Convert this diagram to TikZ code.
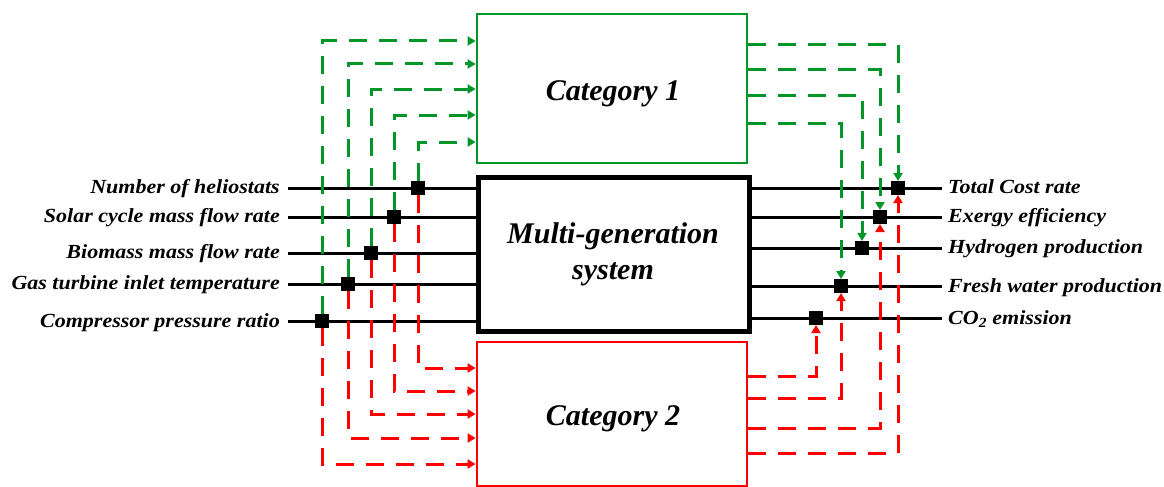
\documentclass[tikz,border=0pt]{standalone}
\usepackage{fontspec}
\setmainfont{Liberation Serif}
\newfontfamily\lblfont{Liberation Serif}[FakeStretch=1.1]
\usetikzlibrary{arrows.meta}
\definecolor{cgreen}{RGB}{0,150,40}
\definecolor{cred}{RGB}{255,0,0}
\begin{document}
\begin{tikzpicture}[x=1pt,y=-1pt,
  lbl/.style={font=\lblfont\fontsize{20}{22}\selectfont\bfseries\itshape, inner sep=0pt},
  bigl/.style={font=\fontsize{30}{36}\selectfont\bfseries\itshape, align=center, inner sep=0pt},
  sq/.style={fill=black, minimum size=14pt, inner sep=0pt, outer sep=0pt},
  inln/.style={line width=3pt, black},
  gd/.style={cgreen, line width=3pt, dash pattern=on 18pt off 12pt, -{Triangle[width=9pt,length=8pt]}},
  rd/.style={cred, line width=3pt, dash pattern=on 18pt off 12pt, -{Triangle[width=9pt,length=8pt]}},
]
\useasboundingbox (0,0) rectangle (1164,487);
% boxes
\node[draw=cgreen, line width=2.8pt, minimum width=270pt, minimum height=149pt, inner sep=0pt] (cat1) at (612,88.5) {};
\node[draw=black, line width=5pt, minimum width=271pt, minimum height=154pt, inner sep=0pt] (ms) at (614,254) {};
\node[draw=cred, line width=2.8pt, minimum width=270pt, minimum height=144pt, inner sep=0pt] (cat2) at (612,414) {};
\node[bigl, anchor=base] (t1) at (613,100) {Category 1};
\node[bigl, anchor=base] (t2) at (613,243) {Multi-generation};
\node[bigl, anchor=base] (t3) at (613,279) {system};
\node[bigl, anchor=base] (t4) at (613,425) {Category 2};
% left inputs
\coordinate (i1) at (288,188);
\coordinate (i2) at (288,217);
\coordinate (i3) at (288,253);
\coordinate (i4) at (288,284);
\coordinate (i5) at (288,321);
\node[lbl, anchor=base east] (l1) at (280,193) {Number of heliostats};
\node[lbl, anchor=base east] (l2) at (280,222) {Solar cycle mass flow rate};
\node[lbl, anchor=base east] (l3) at (280,258) {Biomass mass flow rate};
\node[lbl, anchor=base east] (l4) at (280,289) {Gas turbine inlet temperature};
\node[lbl, anchor=base east] (l5) at (280,327) {Compressor pressure ratio};
\foreach \k in {1,...,5} {\draw[inln] (i\k) -- (i\k -| ms.west);}
% right outputs
\coordinate (o1) at (942,188);
\coordinate (o2) at (942,217);
\coordinate (o3) at (942,248);
\coordinate (o4) at (942,286);
\coordinate (o5) at (942,318);
\foreach \k in {1,...,5} {\draw[inln] (o\k -| ms.east) -- (o\k);}
\node[lbl, anchor=base west] (r1) at (948,193) {Total Cost rate};
\node[lbl, anchor=base west] (r2) at (948,222) {Exergy efficiency};
\node[lbl, anchor=base west] (r3) at (948,253) {Hydrogen production};
\node[lbl, anchor=base west] (r4) at (948,292) {Fresh water production};
\node[lbl, anchor=base west] (r5) at (948,324) {CO\textsubscript{2} emission};
% left squares
\node[sq] (a1) at (418,188) {};
\node[sq] (a2) at (394,217) {};
\node[sq] (a3) at (371,253) {};
\node[sq] (a4) at (348,284) {};
\node[sq] (a5) at (322,321) {};
% right squares
\node[sq] (b1) at (898,188) {};
\node[sq] (b2) at (880,217) {};
\node[sq] (b3) at (862,248) {};
\node[sq] (b4) at (841,286) {};
\node[sq] (b5) at (816,318) {};
% green left
\draw[gd] (a1.north) |- (cat1.west |- 0,142);
\draw[gd] (a2.north) |- (cat1.west |- 0,115);
\draw[gd] (a3.north) |- (cat1.west |- 0,89);
\draw[gd] (a4.north) |- (cat1.west |- 0,64);
\draw[gd] (a5.north) |- (cat1.west |- 0,41);
% red left
\draw[rd] (a1.south) |- (cat2.west |- 0,368);
\draw[rd] (a2.south) |- (cat2.west |- 0,391);
\draw[rd] (a3.south) |- (cat2.west |- 0,414);
\draw[rd] (a4.south) |- (cat2.west |- 0,438);
\draw[rd] (a5.south) |- (cat2.west |- 0,464);
% green right
\draw[gd] (cat1.east |- 0,45) -| (b1.north);
\draw[gd] (cat1.east |- 0,70) -| (b2.north);
\draw[gd] (cat1.east |- 0,95) -| (b3.north);
\draw[gd] (cat1.east |- 0,123) -| (b4.north);
% red right
\draw[rd] (cat2.east |- 0,376) -| (b5.south);
\draw[rd] (cat2.east |- 0,398) -| (b4.south);
\draw[rd] (cat2.east |- 0,428) -| (b2.south);
\draw[rd] (cat2.east |- 0,453) -| (b1.south);
% squares on top of the connectors
\foreach \n in {a1,a2,a3,a4,a5,b1,b2,b3,b4,b5} {\fill[black] (\n.south west) rectangle (\n.north east);}
\end{tikzpicture}
\end{document}
